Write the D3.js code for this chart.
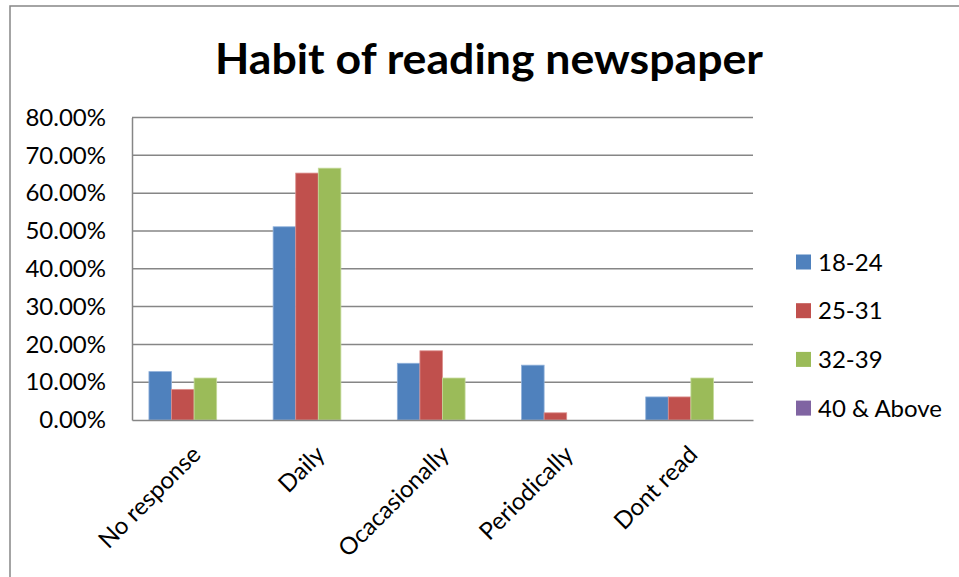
<!DOCTYPE html>
<html>
<head>
<meta charset="utf-8">
<script src="https://cdn.jsdelivr.net/npm/d3@7"></script>
<style>
  html, body { margin: 0; padding: 0; background: #fff; }
  svg { display: block; }
  text { font-family: Lato, "Open Sans", sans-serif; fill: #000; }
</style>
</head>
<body>
<svg id="chart" width="959" height="577"></svg>
<script>
// Survey answers by age group (percent of respondents)
const categories = ["No response", "Daily", "Ocacasionally", "Periodically", "Dont read"];
const seriesNames = ["18-24", "25-31", "32-39", "40 & Above"];
const age18to24 = [12.8, 51.1, 15.0, 14.5, 6.1];
const age25to31 = [8.1, 65.3, 18.3, 1.9, 6.1];
const age32to39 = [11.1, 66.6, 11.1, 0, 11.1];
const age40plus = [0, 0, 0, 0, 0];
const yTicks = [0, 10, 20, 30, 40, 50, 60, 70, 80];
const colors = ["#4F81BD", "#C0504D", "#9BBB59", "#8064A2"];
const edgeColors = ["#8FB0DA", "#DC8F8D", "#C4DA9A", "#B0A0CC"];

const seriesValues = [age18to24, age25to31, age32to39, age40plus];
const rows = categories.map((c, i) => ({
  category: c,
  values: seriesNames.map((s, j) => ({ series: s, idx: j, value: seriesValues[j][i] }))
}));

const svg = d3.select("#chart");

// Outer chart frame
svg.append("rect")
  .attr("x", 10).attr("y", 6)
  .attr("width", 1000).attr("height", 1000)
  .attr("fill", "none").attr("stroke", "#868686").attr("stroke-width", 1.5);

const plot = { left: 132, right: 753, top: 117.5, bottom: 420 };

const x0 = d3.scaleBand().domain(categories).range([plot.left, plot.right]).padding(0);
const x1 = d3.scaleBand().domain(seriesNames).range([0, x0.bandwidth()])
  .paddingInner(0).paddingOuter(0.75);
const y = d3.scaleLinear().domain([0, 80]).range([plot.bottom, plot.top]);

// Title
svg.append("text")
  .attr("x", 489).attr("y", 74)
  .attr("text-anchor", "middle")
  .attr("font-size", 42).attr("font-weight", "bold")
  .attr("textLength", 548).attr("lengthAdjust", "spacingAndGlyphs")
  .text("Habit of reading newspaper");

// Horizontal gridlines
svg.append("g").selectAll("line").data(yTicks.filter(t => t > 0)).join("line")
  .attr("x1", plot.left).attr("x2", plot.right)
  .attr("y1", d => y(d)).attr("y2", d => y(d))
  .attr("stroke", "#868686").attr("stroke-width", 1.5);

// Y axis
const yAxis = d3.axisLeft(y).tickValues(yTicks).tickSize(0).tickPadding(26)
  .tickFormat(d => d.toFixed(2) + "%");
const gy = svg.append("g").attr("transform", `translate(${plot.left},0)`).call(yAxis);
gy.select(".domain").attr("stroke", "#868686").attr("stroke-width", 1.5);
gy.selectAll("text").attr("font-size", 24).attr("font-family", "Lato, sans-serif").attr("fill", "#000");

// Bars
const groups = svg.append("g").selectAll("g").data(rows).join("g")
  .attr("transform", d => `translate(${x0(d.category)},0)`);
groups.selectAll("rect").data(d => d.values.filter(v => v.value > 0)).join("rect")
  .attr("x", d => x1(d.series))
  .attr("y", d => y(d.value))
  .attr("width", x1.bandwidth())
  .attr("height", d => y(0) - y(d.value))
  .attr("fill", d => colors[d.idx])
  .attr("stroke", d => edgeColors[d.idx])
  .attr("stroke-width", 0.8);

// X axis
const xAxis = d3.axisBottom(x0).tickSize(0).tickPadding(0);
const gx = svg.append("g").attr("transform", `translate(0,${plot.bottom})`).call(xAxis);
gx.select(".domain").attr("stroke", "#868686").attr("stroke-width", 1.5);
gx.selectAll(".tick text")
  .attr("font-size", 24).attr("font-family", "Lato, sans-serif").attr("fill", "#000")
  .attr("text-anchor", "end")
  .attr("dy", null).attr("y", null)
  .attr("transform", "translate(8,36) rotate(-45)");

// Legend
const legend = svg.append("g").selectAll("g").data(seriesNames).join("g")
  .attr("transform", (d, i) => `translate(796,${262 + i * 48.7})`);
legend.append("rect")
  .attr("x", 0).attr("y", -7.5).attr("width", 15).attr("height", 15)
  .attr("fill", (d, i) => colors[i]);
legend.append("text")
  .attr("x", 22).attr("y", 8.5)
  .attr("font-size", 24)
  .text(d => d);
</script>
</body>
</html>
